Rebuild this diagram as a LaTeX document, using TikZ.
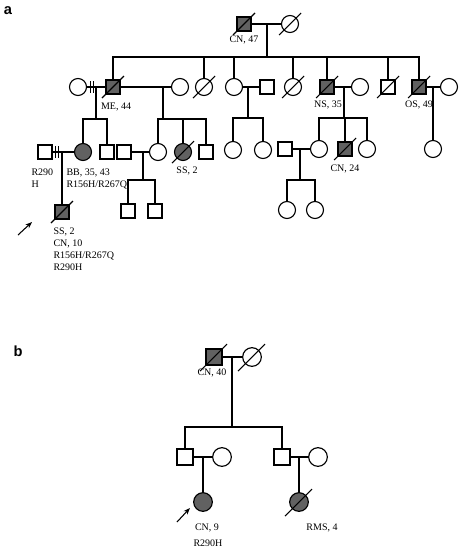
\documentclass[tikz,border=0pt]{standalone}
\usepackage{fontspec}
\setmainfont{Liberation Serif}
\newfontfamily\panelfont{Liberation Sans}
\usetikzlibrary{arrows.meta}
\begin{document}
\begin{tikzpicture}[x=0.75pt,y=-0.75pt, line width=0.85pt,
  sq/.style={draw, rectangle, minimum size=10.5pt, inner sep=0pt, fill=white},
  ci/.style={draw, circle, minimum size=12.75pt, inner sep=0pt, fill=white},
  sqb/.style={sq, minimum size=12pt},
  cib/.style={ci, minimum size=14pt},
  aff/.style={fill=black!62},
  lbl/.style={font=\fontsize{7.5}{9}\selectfont, inner sep=0pt},
  lbll/.style={lbl, align=left, anchor=north west},
  plab/.style={font=\panelfont\bfseries\fontsize{11}{13}\selectfont, inner sep=0pt},
  slash/.style={line width=0.8pt},
  tickmark/.style={line width=0.7pt},
  arr/.style={-{Stealth[length=5pt,width=3.8pt]}, line width=0.8pt}
]
\fill[white] (0,0) rectangle (462,550);
\useasboundingbox (0,0) rectangle (462,550);

% panel labels
\node[plab] (pa) at (8,11) {a};
\node[plab] (pb) at (18,351) {b};

% ---------------- Panel a ----------------
% Generation I
\node[sq,aff] (I1) at (244,24) {};
\node[ci] (I2) at (290,24) {};
\draw (I1) -- (I2);
\coordinate (m0) at (267,24);
\coordinate (s0) at (267,57);
\draw (m0) -- (s0);
\node[lbl] (lI1) at (244,40) {CN, 47};

% Generation II
\node[ci] (w1) at (78,87) {};
\node[sq,aff] (ME) at (113,87) {};
\node[ci] (w2) at (180,87) {};
\node[ci] (II3) at (204,87) {};
\node[ci] (II4) at (234,87) {};
\node[sq] (h4) at (267,87) {};
\node[ci] (II5) at (293,87) {};
\node[sq,aff] (NS) at (327,87) {};
\node[ci] (wNS) at (360,87) {};
\node[sq] (II7) at (388,87) {};
\node[sq,aff] (OS) at (419,87) {};
\node[ci] (wOS) at (449,87) {};
\node[lbl] (lME) at (116,107) {ME, 44};
\node[lbl] (lNS) at (328,105) {NS, 35};
\node[lbl] (lOS) at (419,105) {OS, 49};

\draw (ME.north) |- (s0) -| (OS.north);
\foreach \n in {II3,II4,II5,NS,II7} \draw (\n.north) -- (\n.north |- s0);

% Generation III
\node[ci,aff] (BB) at (83,152) {};
\node[sq] (III2) at (107,152) {};
\node[ci] (III3) at (158,152) {};
\node[ci,aff] (III4) at (183,152) {};
\node[sq] (III5) at (206,152) {};
\node[ci] (III6) at (233,150) {};
\node[ci] (III7) at (263,150) {};
\node[ci] (III8) at (319,149) {};
\node[sq,aff] (III9) at (345,149) {};
\node[ci] (III10) at (367,149) {};
\node[ci] (III11) at (433,149) {};
\node[sq] (h1) at (45,152) {};
\node[sq] (h2) at (124,152) {};
\node[sq] (h3) at (285,149) {};

% marriages of generation II
\draw (w1) -- (ME);
\draw[tickmark] (90,81) -- (90,93);
\draw[tickmark] (93,81) -- (93,93);
\coordinate (m1) at (96,87);
\coordinate (s1) at (96,119);
\draw (m1) -- (s1);
\draw (BB.north) |- (s1) -| (III2.north);

\draw (ME) -- (w2);
\coordinate (m2) at (163,87);
\coordinate (s2) at (163,119);
\draw (m2) -- (s2);
\draw (III3.north) |- (s2) -| (III5.north);
\draw (III4.north) -- (III4.north |- s2);

\draw (II4) -- (h4);
\coordinate (m3) at (248,87);
\coordinate (s3) at (248,118);
\draw (m3) -- (s3);
\draw (III6.north) |- (s3) -| (III7.north);

\draw (NS) -- (wNS);
\coordinate (m4) at (344,87);
\coordinate (s4) at (344,118);
\draw (m4) -- (s4);
\draw (III8.north) |- (s4) -| (III10.north);
\draw (III9.north) -- (III9.north |- s4);

\draw (OS) -- (wOS);
\coordinate (m5) at (433,87);
\draw (m5) -- (III11.north);

% Generation IV
\node[sq,aff] (IV1) at (62,212) {};
\node[sq] (IV2) at (128,211) {};
\node[sq] (IV3) at (155,211) {};
\node[ci] (IV4) at (287,210) {};
\node[ci] (IV5) at (315,210) {};

\draw (h1) -- (BB);
\draw[tickmark] (55,146) -- (55,158);
\draw[tickmark] (58,146) -- (58,158);
\coordinate (m6) at (62,152);
\draw (m6) -- (IV1.north);

\draw (h2) -- (III3);
\coordinate (m7) at (143,152);
\coordinate (s7) at (143,180);
\draw (m7) -- (s7);
\draw (IV2.north) |- (s7) -| (IV3.north);

\draw (h3) -- (III8);
\coordinate (m8) at (300,149);
\coordinate (s8) at (300,180);
\draw (m8) -- (s8);
\draw (IV4.north) |- (s8) -| (IV5.north);

% labels generation III / IV
\node[lbll] (lh1) at (31,168.5) {R290\\H};
\node[lbll] (lBB) at (66,168.5) {BB, 35, 43\\R156H/R267Q};
\node[lbl] (lIII4) at (187,171) {SS, 2};
\node[lbl] (lIII9) at (345,169) {CN, 24};
\node[lbll] (lIV1) at (53,227.5) {SS, 2\\CN, 10\\R156H/R267Q\\R290H};

% proband arrow
\coordinate (pa0) at (18,235);
\coordinate (pa1) at (32,222);
\draw[arr] (pa0) -- (pa1);

% deceased slashes panel a
\foreach \n in {I1,I2,ME,II3,II5,NS,II7,OS,III4,III9,IV1}
  \draw[slash] ([shift={(-11,11)}]\n.center) -- ([shift={(11,-11)}]\n.center);

% ---------------- Panel b ----------------
\node[sqb,aff] (b1) at (214,357) {};
\node[cib] (b2) at (252,357) {};
\draw (b1) -- (b2);
\coordinate (mb0) at (232,357);
\coordinate (sb0) at (232,427);
\draw (mb0) -- (sb0);
\node[lbl] (lb1) at (212,373) {CN, 40};

\node[sqb] (b3) at (185,457) {};
\node[cib] (b4) at (222,457) {};
\node[sqb] (b5) at (282,457) {};
\node[cib] (b6) at (318,457) {};
\draw (b3.north) |- (sb0) -| (b5.north);

\node[cib,aff] (b7) at (203,502) {};
\node[cib,aff] (b8) at (299,502) {};
\draw (b3) -- (b4);
\coordinate (mb1) at (203,457);
\draw (mb1) -- (b7.north);
\draw (b5) -- (b6);
\coordinate (mb2) at (299,457);
\draw (mb2) -- (b8.north);

\node[lbl] (lb7a) at (207,528) {CN, 9};
\node[lbl] (lb7b) at (208,543) {R290H};
\node[lbl] (lb8) at (322,528) {RMS, 4};

\coordinate (pb0) at (177,522);
\coordinate (pb1) at (190,508);
\draw[arr] (pb0) -- (pb1);

\foreach \n in {b1,b2,b8}
  \draw[slash] ([shift={(-14,14)}]\n.center) -- ([shift={(13,-13)}]\n.center);

\end{tikzpicture}
\end{document}
